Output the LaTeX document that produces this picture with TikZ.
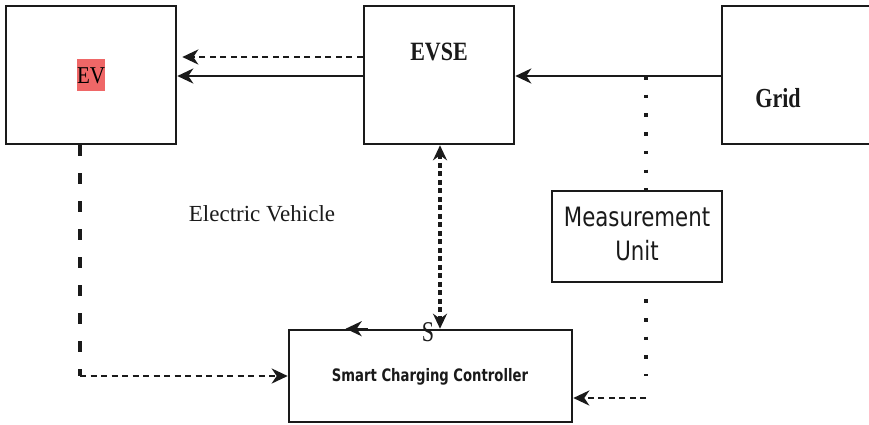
\documentclass[tikz,border=0pt]{standalone}
\usepackage{fontspec}
\setmainfont{Liberation Serif}
\newfontfamily\uisans{DejaVu Sans}
\usetikzlibrary{arrows.meta,calc}
\definecolor{evred}{HTML}{EF6767}
\definecolor{ink}{HTML}{1A1A1A}
% vertically stretched text
\newcommand{\vstretch}[2]{\scalebox{1}[#1]{#2}}

\begin{document}
\begin{tikzpicture}[x=1pt,y=1pt,
  box/.style={draw=ink, line width=2.6pt, rectangle, inner sep=0pt},
  lbl/.style={inner sep=0pt, text=ink},
  wire/.style={draw=ink, line width=2.4pt},
  head/.style={Stealth[length=16pt,width=15pt,inset=5pt]},
  tip/.style={-{Stealth[length=16pt,width=15pt,inset=5pt]}},
  twotip/.style={{Stealth[length=15pt,width=14pt,inset=5pt]}-{Stealth[length=15pt,width=14pt,inset=5pt]}},
  coarsedash/.style={line width=3.6pt, dash pattern=on 11pt off 17pt},
  finedash/.style={line width=2.8pt, dash pattern=on 6pt off 4.5pt},
  shortdash/.style={line width=3.2pt, dash pattern=on 5pt off 3.5pt},
  dots/.style={line width=3.6pt, dash pattern=on 3.6pt off 15.1pt},
]
\useasboundingbox (0,0) rectangle (869,-424);
\fill[white] (0,0) rectangle (869,-424);

% blocks
\node[box, minimum width=170, minimum height=138] (ev) at (91,-75)
  {\setlength\fboxsep{0pt}\colorbox{evred}{\vstretch{1.15}{\fontsize{21}{21}\selectfont\rule[-6.5pt]{0pt}{28pt}EV}}};
\node[box, minimum width=150, minimum height=138] (evse) at (439,-75) {};
\node[box, minimum width=160, minimum height=138] (grid) at (802,-75) {};
\node[box, minimum width=170, minimum height=91] (mu) at (637,-236.5) {};
\node[box, minimum width=283, minimum height=92] (sc) at (430.5,-376) {};

% block texts
\node[lbl] (evsetext) at (439,-52) {\vstretch{1.2}{\fontsize{22}{22}\selectfont\bfseries EVSE}};
\node[lbl] (gridtext) at (778,-98) {\vstretch{1.25}{\fontsize{22}{22}\selectfont\bfseries Grid}};
\node[lbl] (mutext) at (mu.center) {\vstretch{1.25}{\uisans\fontsize{21.3}{27.5}\selectfont
  \begin{tabular}{@{}c@{}}Measurement\\Unit\end{tabular}}};
\node[lbl] (sctext) at (430,-377) {\vstretch{1.3}{\uisans\fontsize{13.2}{13}\selectfont\bfseries Smart Charging Controller}};
\node[lbl] (evlabel) at (262,-214) {\fontsize{23}{23}\selectfont Electric Vehicle};
\node[lbl] (stext) at (428,-332) {\vstretch{1.3}{\fontsize{22}{22}\selectfont S}};

% power and signal flow
\coordinate (tap) at (646,-76);
\draw[wire, tip] (grid.west |- tap) -- (evse.east |- tap);
\draw[wire, tip] (evse.west |- 0,-76) -- (ev.east |- 0,-76);
\draw[wire, finedash, tip, shorten >=5pt] (evse.west |- 0,-57) -- (ev.east |- 0,-57);
\draw[wire, shortdash, twotip] (evse.south -| 440,0) -- (sc.north -| 440,0);

% measurement path
\draw[wire, dots] (tap) -- (mu.north -| tap);
\coordinate (mubend) at (646,-398);
\draw[wire, dots] ($(mu.south -| tap)+(0,-16)$) -- ($(mubend)+(0,22)$);
\draw[wire, finedash, tip] (mubend) -- (sc.east |- mubend);

% EV to controller
\coordinate (evbend) at (80,-376);
\draw[wire, coarsedash] (ev.south -| evbend) -- (evbend);
\draw[wire, finedash, tip] (evbend) -- (sc.west |- evbend);

% direction mark on the controller's top edge
\draw[wire, tip] ($(sc.north west)+(80,0)$) -- ($(sc.north west)+(58,0)$);
\end{tikzpicture}
\end{document}
